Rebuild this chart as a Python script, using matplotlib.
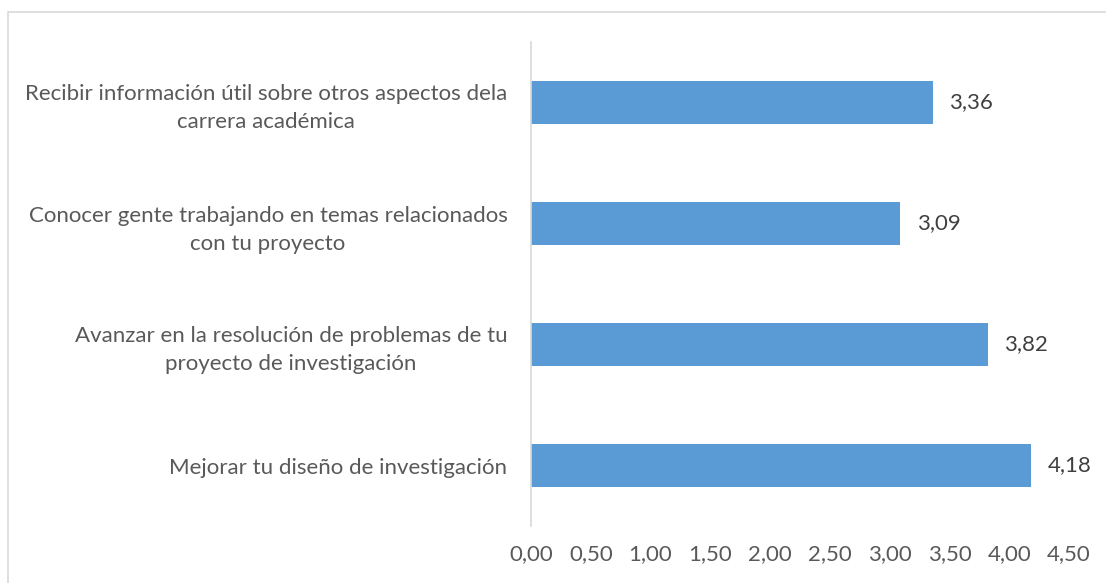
import matplotlib
matplotlib.use("Agg")
import matplotlib.pyplot as plt
from matplotlib.patches import Rectangle

categories = [
    "Mejorar tu diseño de investigación",
    "Avanzar en la resolución de problemas de tu\nproyecto de investigación",
    "Conocer gente trabajando en temas relacionados\ncon tu proyecto",
    "Recibir información útil sobre otros aspectos dela\ncarrera académica",
]
values = [4.18, 3.82, 3.09, 3.36]
xticks = [0.0, 0.5, 1.0, 1.5, 2.0, 2.5, 3.0, 3.5, 4.0, 4.5]

W, H = 1106, 583
fig = plt.figure(figsize=(W / 100, H / 100), dpi=100)
plt.rcParams['font.family'] = ['Lato', 'DejaVu Sans']
txt = '#595959'
fs = 16

# outer chart border
fig.patches.append(Rectangle((8 / W, -0.1), 1.2, 1 - 12 / H + 0.1, transform=fig.transFigure,
                             fill=False, edgecolor='#D9D9D9', linewidth=1.2))

ax = fig.add_axes([531 / W, 1 - 526 / H, (1069 - 531) / W, (526 - 42) / H])
y = list(range(len(categories)))
bars = ax.barh(y, values, height=0.35, color='#5B9BD5')
ax.set_xlim(0, 4.5)
ax.set_ylim(-0.5, len(categories) - 0.5)
ax.set_xticks(xticks)
ax.set_xticklabels([f"{v:.2f}".replace('.', ',') for v in xticks], color=txt, fontsize=fs)
ax.set_yticks(y)
ax.set_yticklabels(categories, color=txt, fontsize=fs, multialignment='center', linespacing=1.5)
ax.tick_params(axis='both', length=0)
ax.tick_params(axis='x', pad=13)
ax.tick_params(axis='y', pad=17)
for s in ['top', 'right', 'bottom']:
    ax.spines[s].set_visible(False)
ax.spines['left'].set_color('#D9D9D9')
ax.spines['left'].set_linewidth(1.2)

for b, v in zip(bars, values):
    ax.text(v + 0.14, b.get_y() + b.get_height() / 2, f"{v:.2f}".replace('.', ','),
            va='center', ha='left', color='#404040', fontsize=fs)

fig.savefig('out.png', dpi=100)
